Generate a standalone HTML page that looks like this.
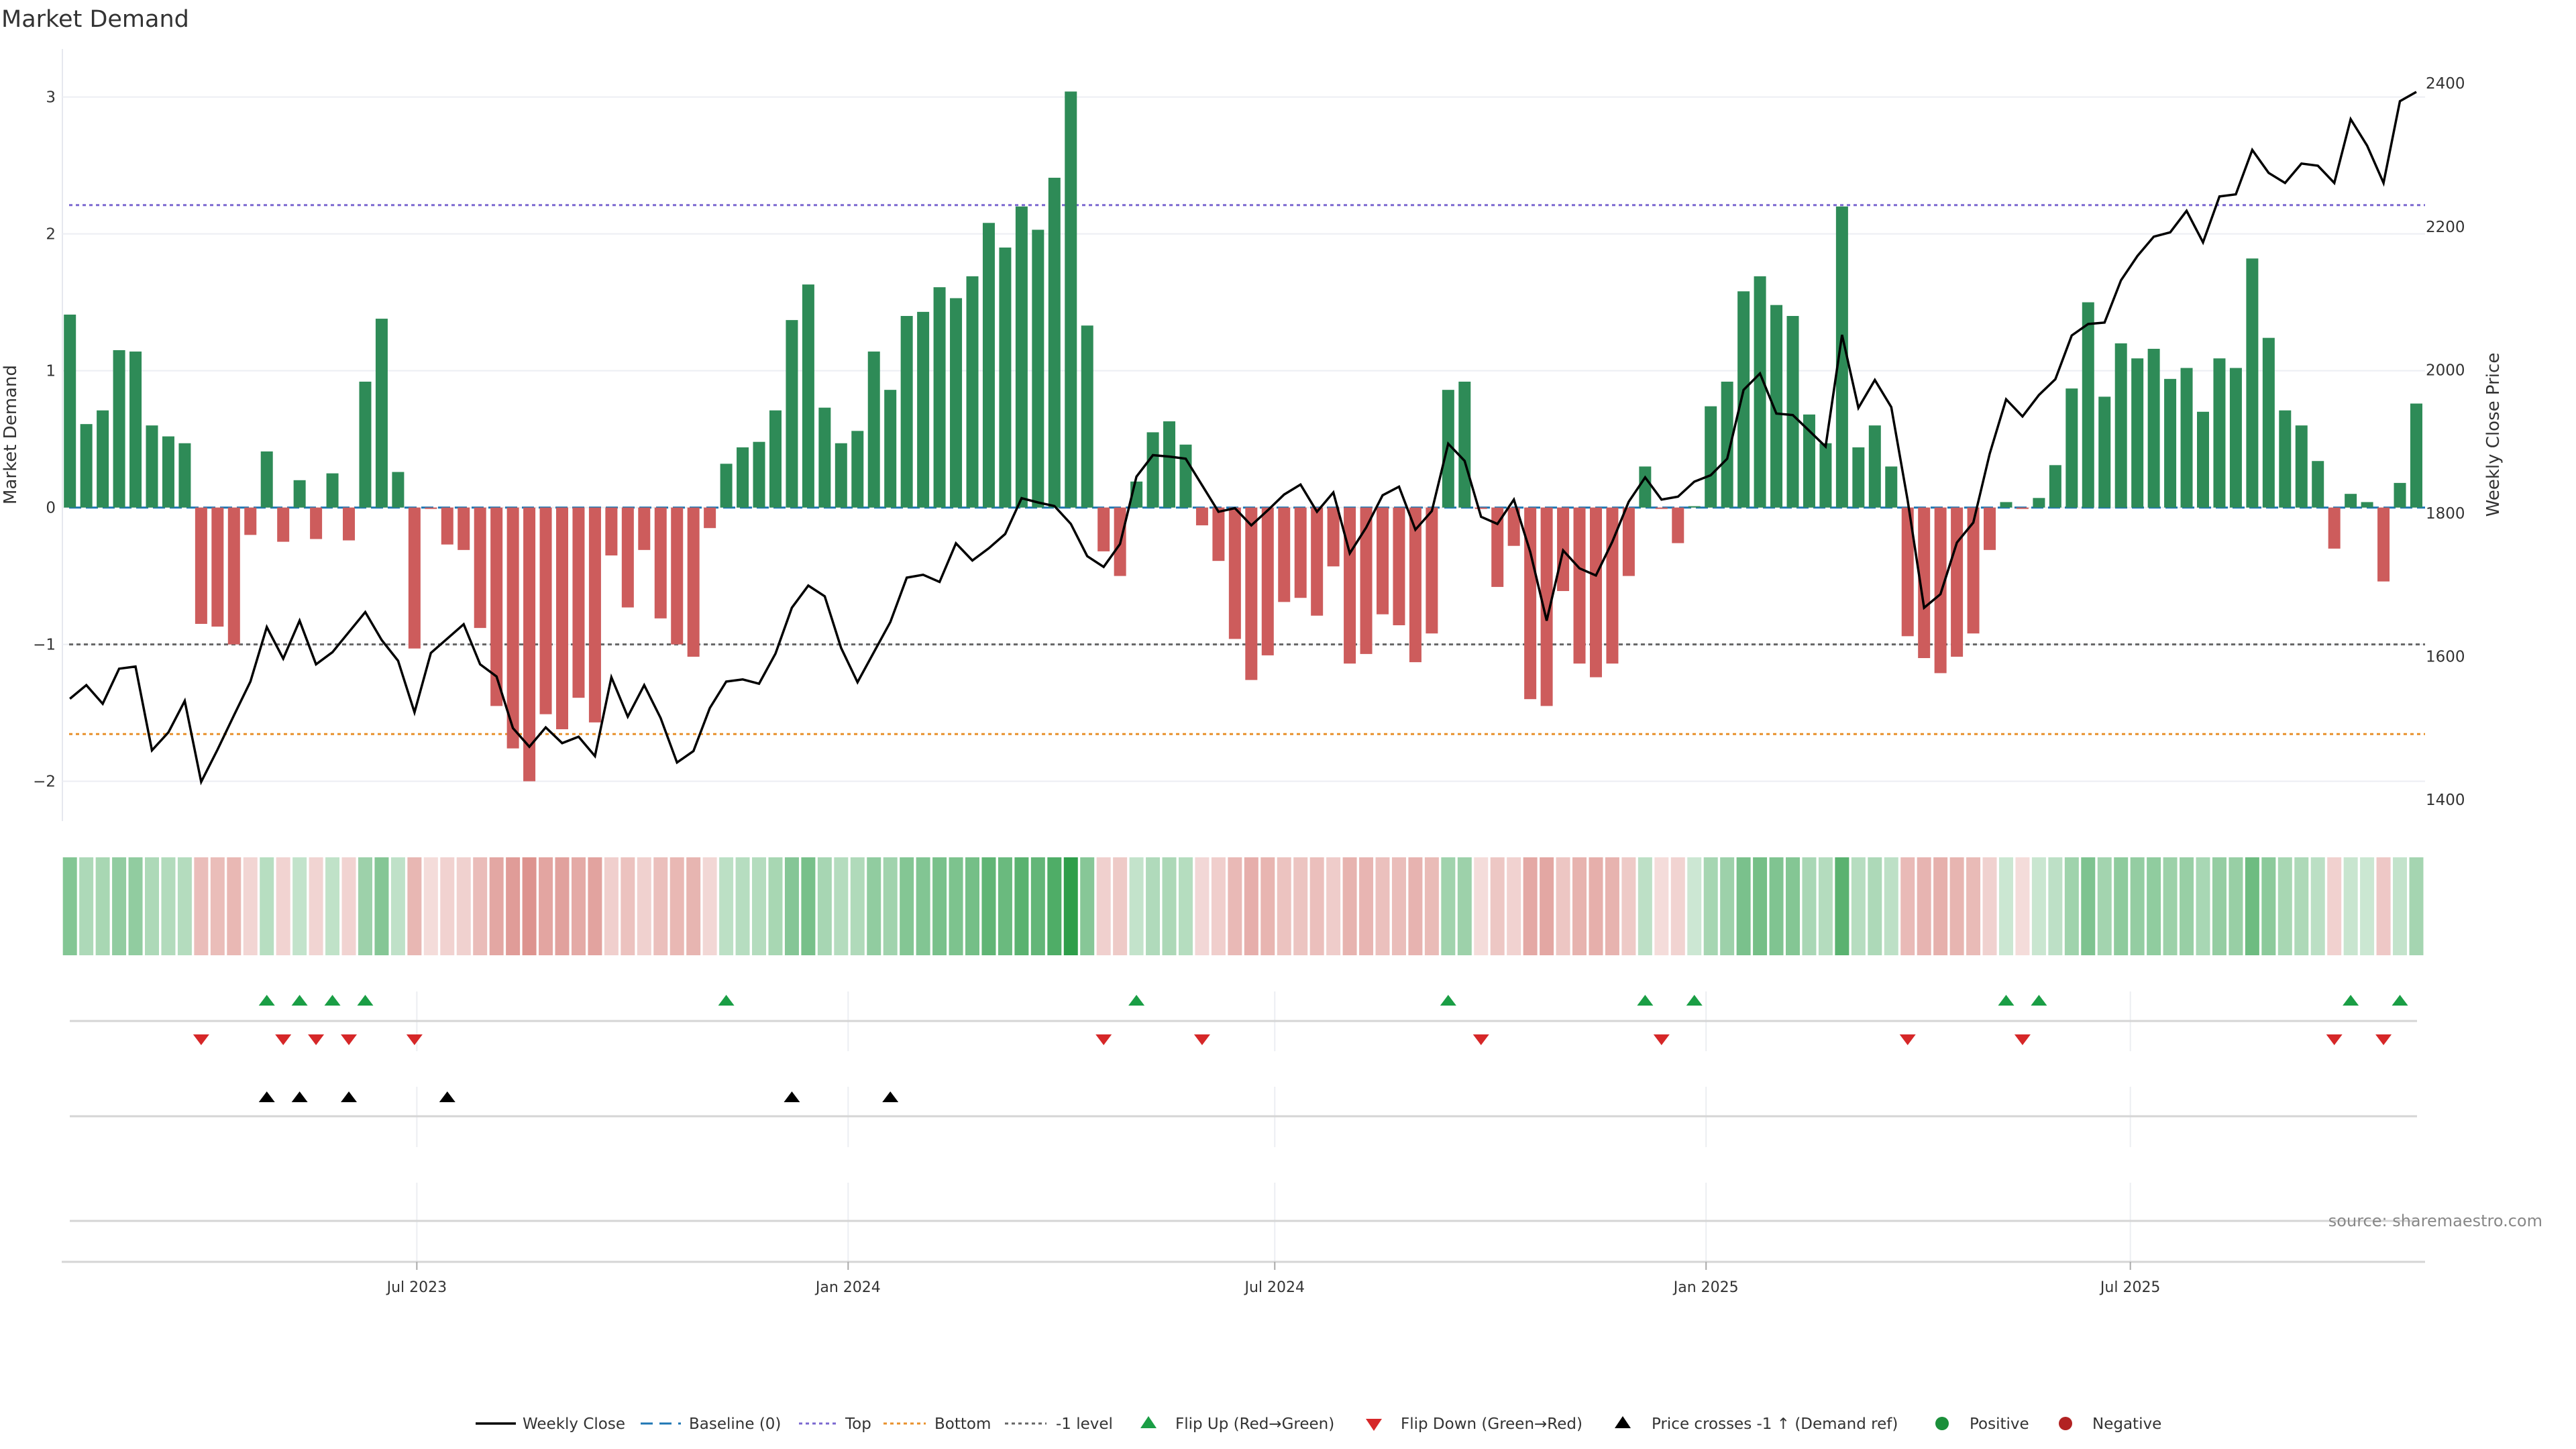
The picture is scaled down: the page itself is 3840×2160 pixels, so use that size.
<!DOCTYPE html>
<html><head><meta charset="utf-8"><title>Market Demand</title>
<style>
html,body{margin:0;padding:0;background:#fff;}
svg{display:block;font-family:"DejaVu Sans","Liberation Sans",sans-serif;}
</style></head>
<body>
<svg id="chart" width="3840" height="2160" viewBox="0 0 3840 2160" xmlns="http://www.w3.org/2000/svg">
<rect width="3840" height="2160" fill="#fff"/>
<text x="2" y="40" font-size="35" fill="#333">Market Demand</text>
<g id="main"></g>
<g id="strip"></g>
<g id="markers"></g>
<g id="xaxis"></g>
<text x="3790" y="1828" font-size="24" fill="#888" text-anchor="end">source: sharemaestro.com</text>
<g id="legend" font-size="23" fill="#333">
  <line x1="709" y1="2122" x2="769" y2="2122" stroke="#000" stroke-width="3.5"/>
  <text x="779" y="2130">Weekly Close</text>
  <line x1="955" y1="2122" x2="1015" y2="2122" stroke="#1f77b4" stroke-width="3" stroke-dasharray="18 10"/>
  <text x="1027" y="2130">Baseline (0)</text>
  <line x1="1191" y1="2122" x2="1250" y2="2122" stroke="#7b68d0" stroke-width="3" stroke-dasharray="5 5"/>
  <text x="1260" y="2130">Top</text>
  <line x1="1317" y1="2122" x2="1380" y2="2122" stroke="#e8912d" stroke-width="3" stroke-dasharray="5 5"/>
  <text x="1393" y="2130">Bottom</text>
  <line x1="1498" y1="2122" x2="1560" y2="2122" stroke="#666" stroke-width="3" stroke-dasharray="5 5"/>
  <text x="1574" y="2130">-1 level</text>
  <polygon points="1712,2111 1724,2129 1700,2129" fill="#1a9e45"/>
  <text x="1752" y="2130">Flip Up (Red→Green)</text>
  <polygon points="2036,2115 2060,2115 2048,2133" fill="#d62728"/>
  <text x="2088" y="2130">Flip Down (Green→Red)</text>
  <polygon points="2419,2111 2431,2129 2407,2129" fill="#000"/>
  <text x="2462" y="2130">Price crosses -1 ↑ (Demand ref)</text>
  <circle cx="2895" cy="2122" r="10" fill="#1a8f3a"/>
  <text x="2936" y="2130">Positive</text>
  <circle cx="3079" cy="2122" r="10" fill="#b22222"/>
  <text x="3119" y="2130">Negative</text>
</g>
</svg>
<script>
const demand = [1.41,0.61,0.71,1.15,1.14,0.60,0.52,0.47,-0.85,-0.87,-1.0,-0.20,0.41,-0.25,0.20,-0.23,0.25,-0.24,0.92,1.38,0.26,-1.03,-0.01,-0.27,-0.31,-0.88,-1.45,-1.76,-2.0,-1.51,-1.62,-1.39,-1.57,-0.35,-0.73,-0.31,-0.81,-1.0,-1.09,-0.15,0.32,
0.44,0.48,0.71,1.37,1.63,0.73,0.47,0.56,1.14,0.86,1.40,1.43,1.61,1.53,1.69,2.08,1.90,2.20,2.03,2.41,3.04,1.33,-0.32,-0.50,0.19,0.55,0.63,0.46,-0.13,-0.39,-0.96,-1.26,-1.08,-0.69,-0.66,-0.79,-0.43,-1.14,-1.07,
-0.78,-0.86,-1.13,-0.92,0.86,0.92,-0.01,-0.58,-0.28,-1.40,-1.45,-0.61,-1.14,-1.24,-1.14,-0.50,0.30,-0.01,-0.26,0.01,0.74,0.92,1.58,1.69,1.48,1.40,0.68,0.47,2.20,0.44,0.60,0.30,-0.94,-1.10,-1.21,-1.09,-0.92,-0.31,
0.04,-0.01,0.07,0.31,0.87,1.50,0.81,1.20,1.09,1.16,0.94,1.02,0.70,1.09,1.02,1.82,1.24,0.71,0.60,0.34,-0.30,0.10,0.04,-0.54,0.18,0.76];
const price = [1541,1560,1534,1583,1586,1469,1494,1538,1425,1470,1518,1565,1641,1597,1650,1589,1606,1634,1662,1623,1594,1522,1605,1625,1645,1589,1572,1500,1474,1501,1479,1488,1461,1571,1516,1560,1514,1452,1468,1528,1565,
1568,1562,1604,1668,1699,1684,1612,1564,1606,1648,1710,1714,1704,1758,1734,1751,1771,1821,1815,1810,1785,1740,1725,1757,1851,1881,1879,1876,1839,1802,1807,1783,1804,1826,1840,1802,1829,1744,1780,
1825,1837,1777,1803,1897,1873,1795,1785,1819,1746,1650,1748,1723,1713,1760,1816,1850,1819,1823,1844,1853,1876,1972,1995,1939,1937,1915,1893,2049,1947,1986,1948,1818,1668,1687,1759,1787,1883,
1959,1935,1965,1987,2048,2064,2066,2125,2159,2186,2192,2222,2178,2242,2245,2307,2275,2261,2288,2285,2261,2350,2313,2261,2375,2388];
const startDate = "2023-02-03";
const demandTicks = [3,2,1,0,-1,-2];
const priceTicks = [2400,2200,2000,1800,1600,1400];
const xTickDates = ["2023-07-01","2024-01-01","2024-07-01","2025-01-01","2025-07-01"];
const xTickLabels = ["Jul 2023","Jan 2024","Jul 2024","Jan 2025","Jul 2025"];
const topLevel = 2.21;
const bottomLevel = -1.655;
const minusLevel = -1;

const NS = "http://www.w3.org/2000/svg";
const X0 = 104.2, DX = 24.46, BW = 18, Y0 = 756.6, U = 204;
const PY0 = 765, PU = 213.6;
const PL = 93, PR = 3615;
const xIdx = i => X0 + i*DX;
const xDate = d => X0 + (new Date(d+"T00:00:00Z") - new Date(startDate+"T00:00:00Z"))/(7*864e5)*DX;
const yD = v => Y0 - v*U;
const yP = p => PY0 - (p-1800)/200*PU;
function mk(parent, tag, attrs){const e=document.createElementNS(NS,tag);for(const k in attrs)e.setAttribute(k,attrs[k]);parent.appendChild(e);return e;}
const main = document.getElementById('main');
const strip = document.getElementById('strip');
const markers = document.getElementById('markers');
const xaxis = document.getElementById('xaxis');

let el = mk(main,'line',{x1:PL,y1:73,x2:PL,y2:1224,stroke:'#e6e8ee','stroke-width':2});


demandTicks.forEach(t=>{
  let g = mk(main,'line',{x1:PL,y1:yD(t),x2:PR,y2:yD(t),stroke:'#eceef3','stroke-width':2});
  
  
  let tx = mk(main,'text',{x:83,y:yD(t)+8,'font-size':23,fill:'#333','text-anchor':'end'});
  tx.textContent = t===0?'0':(t<0?'−'+Math.abs(t):String(t));
  
  
});
priceTicks.forEach(p=>{
  let tx = mk(main,'text',{x:3616,y:yP(p)+8,'font-size':23,fill:'#333'});
  tx.textContent = String(p);
  
  
});
el = mk(main,'text',{x:0,y:0,'font-size':26,fill:'#333','text-anchor':'middle',transform:'translate(24,648) rotate(-90)'});
el.textContent='Market Demand';


el = mk(main,'text',{x:0,y:0,'font-size':26,fill:'#333','text-anchor':'middle',transform:'translate(3725,648) rotate(-90)'});
el.textContent='Weekly Close Price';



el = mk(main,'line',{x1:PL+10,y1:yD(topLevel),x2:PR,y2:yD(topLevel),stroke:'#7b68d0','stroke-width':3,'stroke-dasharray':'5 5'});


el = mk(main,'line',{x1:PL+10,y1:yD(bottomLevel),x2:PR,y2:yD(bottomLevel),stroke:'#e8912d','stroke-width':3,'stroke-dasharray':'5 5'});


el = mk(main,'line',{x1:PL+10,y1:yD(minusLevel),x2:PR,y2:yD(minusLevel),stroke:'#666','stroke-width':3,'stroke-dasharray':'6 5'});


el = mk(main,'line',{x1:PL+10,y1:yD(0),x2:PR,y2:yD(0),stroke:'#1f77b4','stroke-width':3,'stroke-dasharray':'18 7'});



demand.forEach((v,i)=>{
  const y1=yD(Math.max(v,0)), y2=yD(Math.min(v,0));
  const r = mk(main,'rect',{x:xIdx(i)-BW/2,y:y1,width:BW,height:Math.max(y2-y1,0.5),fill:v>=0?'#2e8b57':'#cd5c5c'});
  
  
});
el = mk(main,'polyline',{points:price.map((p,i)=>xIdx(i).toFixed(1)+','+yP(p).toFixed(1)).join(' '),fill:'none',stroke:'#000','stroke-width':3.5,'stroke-linejoin':'miter'});



function mix(c,f){const w=[255,255,255];return 'rgb('+c.map((x,k)=>Math.round(w[k]+(x-w[k])*f)).join(',')+')';}
demand.forEach((v,i)=>{
  const f=Math.min(1,0.24+0.25*Math.abs(v));
  const col = v>=0?mix([46,158,74],f):mix([201,84,76],f*0.85);
  const r = mk(strip,'rect',{x:xIdx(i)-10.5,y:1278,width:21,height:146,fill:col});
  
  
});

xTickDates.forEach(d=>{
  const x=xDate(d);
  [[1478,1567],[1620,1710],[1763,1880]].forEach(s=>{
    let g=mk(markers,'line',{x1:x,y1:s[0],x2:x,y2:s[1],stroke:'#eceef2','stroke-width':2});
    
    
  });
});
[1522,1664,1820].forEach(y=>{
  let g=mk(markers,'line',{x1:104,y1:y,x2:3603,y2:y,stroke:'#d5d5d5','stroke-width':3});
  
  
});
function tri(x,y,up,col,name){
  const pts = up?`${x},${y-8} ${x+12},${y+8} ${x-12},${y+8}`:`${x-12},${y-8} ${x+12},${y-8} ${x},${y+8}`;
  const t=mk(markers,'polygon',{points:pts,fill:col});
  
  
}
const yMinus = yD(minusLevel);
for(let i=1;i<demand.length;i++){
  if(demand[i]>0 && demand[i-1]<=0) tri(xIdx(i),1491,true,'#1a9e45','flip-up-marker');
  if(demand[i]<=0 && demand[i-1]>0) tri(xIdx(i),1550,false,'#d62728','flip-down-marker');
  if(yP(price[i])<yMinus && yP(price[i-1])>=yMinus) tri(xIdx(i),1635,true,'#000','price-cross-marker');
}

el = mk(xaxis,'line',{x1:92,y1:1881,x2:3615,y2:1881,stroke:'#d5d5d5','stroke-width':3});


xTickDates.forEach((d,k)=>{
  const x=xDate(d);
  let t=mk(xaxis,'line',{x1:x,y1:1881,x2:x,y2:1893,stroke:'#aaa','stroke-width':2});
  
  
  let tx=mk(xaxis,'text',{x:x,y:1926,'font-size':22,fill:'#333','text-anchor':'middle'});
  tx.textContent=xTickLabels[k];
  
  
});
</script>
</body></html>
